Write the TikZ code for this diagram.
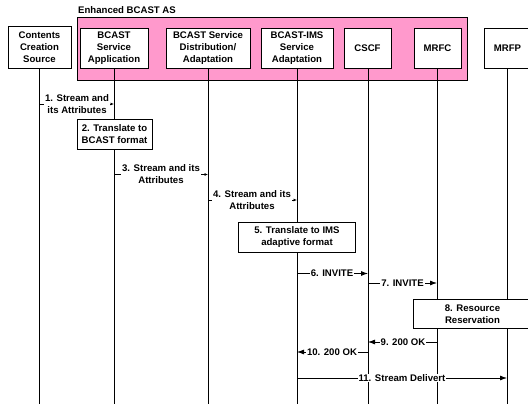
\documentclass[tikz,border=0pt]{standalone}
\usepackage{fontspec}
\setmainfont{Liberation Sans}
\usetikzlibrary{arrows.meta}
\definecolor{asPink}{HTML}{FF99CC}
\tikzset{
  x=1pt,y=-1pt,
  every node/.style={font=\bfseries\fontsize{9.6}{12}\selectfont,align=center,inner sep=0pt},
  actor/.style={draw=black,fill=white,line width=0.8pt,minimum height=40pt,anchor=center},
  stepbox/.style={draw=black,fill=white,line width=0.8pt},
  life/.style={draw=black,line width=0.8pt},
  msg/.style={draw=black,line width=0.8pt,-{Latex[length=7pt,width=5pt]}},
  msgs/.style={draw=black,line width=0.8pt,-{Latex[length=3.5pt,width=3pt]}},
  lab/.style={fill=white,inner xsep=1pt,inner ysep=0.5pt},
}
\begin{document}
\begin{tikzpicture}
\useasboundingbox (0,0) rectangle (528,404);
\node[draw=black,fill=asPink,line width=0.8pt,minimum width=390pt,minimum height=63pt] (as) at (272,48.5) {};
\node[anchor=west] (astitle) at (78,10) {Enhanced BCAST AS};
\node[actor,minimum width=63pt,minimum height=42pt] (a) at (39.5,47) {Contents\\Creation\\Source};
\node[actor,minimum width=68pt] (b) at (114,48) {BCAST\\Service\\Application};
\node[actor,minimum width=84pt] (c) at (208,48) {BCAST Service\\Distribution/\\Adaptation};
\node[actor,minimum width=72pt] (d) at (297,48) {BCAST-IMS\\Service\\Adaptation};
\node[actor,minimum width=47pt] (e) at (367.5,48) {CSCF};
\node[actor,minimum width=47pt] (f) at (437.5,48) {MRFC};
\node[actor,minimum width=47pt] (g) at (507.5,48) {MRFP};
\foreach \n/\x in {a/39,b/114,c/208,d/297,e/368,f/437,g/507}{
  \coordinate (\n end) at (\x,404);
  \draw[life] (\n.south -| \n end) -- (\n end);
}
\node[stepbox,minimum width=75pt,minimum height=30pt] (s2) at (114.5,134) {2. Translate to\\BCAST format};
\node[stepbox,minimum width=117pt,minimum height=29.5pt] (s5) at (297,237.5) {5. Translate to IMS\\adaptive format};
\node[stepbox,minimum width=118pt,minimum height=28.5pt] (s8) at (472.5,314) {8. Resource\\Reservation};
\foreach \n/\xa/\xb/\y in {1/39/114/104,3/114/208/174.5,4/208/297/200,6/297/368/273.5,7/368/437/283,9/437/368/342,10/368/297/352,11/297/507/378}{
  \coordinate (m\n s) at (\xa,\y);
  \coordinate (m\n e) at (\xb,\y);
}
\draw[msgs] (m1s) -- (m1e);
\draw[msgs] (m3s) -- (m3e);
\draw[msgs] (m4s) -- (m4e);
\draw[msg] (m6s) -- (m6e);
\draw[msg] (m7s) -- (m7e);
\draw[msg] (m9s) -- (m9e);
\draw[msg] (m10s) -- (m10e);
\draw[msg] (m11s) -- (m11e);
\node[lab] (l1) at (77,104) {1. Stream and\\its Attributes};
\node[lab] (l3) at (161,174.5) {3. Stream and its\\Attributes};
\node[lab] (l4) at (252,200) {4. Stream and its\\Attributes};
\node[lab] (l6) at (332,273.5) {6. INVITE};
\node[lab] (l7) at (402.5,283) {7. INVITE};
\node[lab] (l9) at (403,342) {9. 200 OK};
\node[lab] (l10) at (332,352) {10. 200 OK};
\node[lab] (l11) at (402,378) {11. Stream Delivert};
\end{tikzpicture}
\end{document}
